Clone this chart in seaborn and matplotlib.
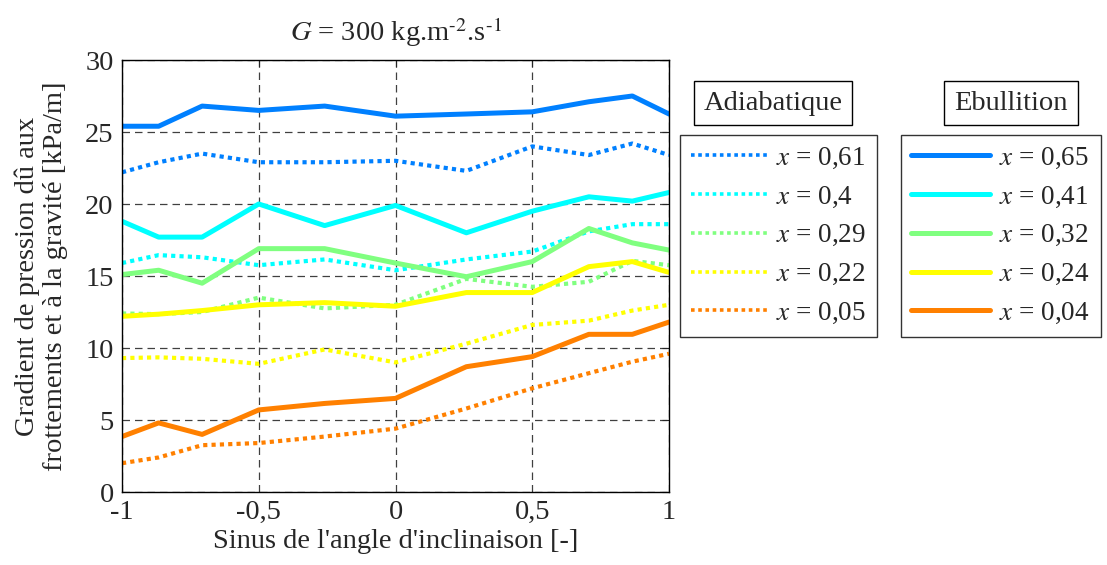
import matplotlib
matplotlib.use("Agg")
import matplotlib.pyplot as plt
from matplotlib.lines import Line2D
import numpy as np
import pandas as pd
import seaborn as sns

# sinus de l'angle d'inclinaison (-90 .. 90 deg)
sin_angle = [-1, -0.866, -0.707, -0.5, -0.259, 0, 0.259, 0.5, 0.707, 0.866, 1]

colors = ["#0080ff", "#00ffff", "#80ff80", "#ffff00", "#ff8000"]

# Adiabatique (pointilles)
adia_labels = ["0,61", "0,4", "0,29", "0,22", "0,05"]
adia_061 = [22.2, 22.9, 23.5, 22.9, 22.9, 23.0, 22.3, 24.0, 23.4, 24.2, 23.4]
adia_040 = [15.9, 16.45, 16.3, 15.75, 16.15, 15.4, 16.15, 16.7, 18.1, 18.6, 18.6]
adia_029 = [12.4, 12.35, 12.5, 13.5, 12.75, 13.0, 14.8, 14.25, 14.6, 16.05, 15.75]
adia_022 = [9.3, 9.35, 9.25, 8.9, 9.9, 9.0, 10.3, 11.6, 11.9, 12.6, 13.0]
adia_005 = [2.0, 2.4, 3.25, 3.4, 3.85, 4.4, 5.8, 7.2, 8.25, 9.05, 9.6]

# Ebullition (traits pleins)
ebul_labels = ["0,65", "0,41", "0,32", "0,24", "0,04"]
ebul_065 = [25.4, 25.4, 26.8, 26.5, 26.8, 26.1, 26.25, 26.4, 27.1, 27.5, 26.25]
ebul_041 = [18.8, 17.7, 17.7, 20.0, 18.5, 19.9, 18.0, 19.5, 20.5, 20.2, 20.8]
ebul_032 = [15.1, 15.4, 14.5, 16.9, 16.9, 15.9, 14.95, 16.0, 18.3, 17.3, 16.8]
ebul_024 = [12.2, 12.35, 12.6, 13.0, 13.15, 12.9, 13.85, 13.85, 15.65, 16.0, 15.25]
ebul_004 = [3.85, 4.8, 4.0, 5.7, 6.15, 6.5, 8.7, 9.4, 10.95, 10.95, 11.8]

adia = [adia_061, adia_040, adia_029, adia_022, adia_005]
ebul = [ebul_065, ebul_041, ebul_032, ebul_024, ebul_004]

sns.set_style("white")
plt.rcParams["font.family"] = ["Liberation Serif", "DejaVu Serif"]
plt.rcParams["mathtext.fontset"] = "stix"
fs = 20.5
lfs = 19.5

fig = plt.figure(figsize=(11.07, 5.65), dpi=100)
ax = fig.add_axes([122 / 1107, 1 - 492 / 565, (669 - 122) / 1107, (492 - 60) / 565])

dotted = (0, (1, 1))
for vals, c in zip(adia, colors):
    sns.lineplot(x=sin_angle, y=vals, ax=ax, color=c, lw=3.0, linestyle=dotted, legend=False)
for vals, c in zip(ebul, colors):
    sns.lineplot(x=sin_angle, y=vals, ax=ax, color=c, lw=3.6, legend=False)

ax.set_xlim(-1, 1)
ax.set_ylim(0, 30)
ax.set_xticks([-1, -0.5, 0, 0.5, 1])
ax.set_xticklabels(["-1", "-0,5", "0", "0,5", "1"])
ax.set_yticks(range(0, 31, 5))
ax.tick_params(direction="in", labelsize=fs, top=True, right=True, length=5, pad=6)
ax.grid(True, color="#404040", linestyle=(0, (6, 4)), lw=0.9)
for s in ax.spines.values():
    s.set_color("black")
    s.set_linewidth(1.0)

ax.set_xlabel("Sinus de l'angle d'inclinaison [-]", fontsize=fs, labelpad=3)
ax.set_ylabel("Gradient de pression dû aux\nfrottements et à la gravité [kPa/m]", fontsize=fs, labelpad=12)
ax.set_title(r"$G$ = 300 kg.m$^{\text{-2}}$.s$^{\text{-1}}$", fontsize=fs, pad=14)

# legendes
h_adia = [Line2D([], [], color=c, lw=2.6, linestyle=dotted) for c in colors]
h_ebul = [Line2D([], [], color=c, lw=3.6) for c in colors]
lab_adia = [r"$x$ = " + l for l in adia_labels]
lab_ebul = [r"$x$ = " + l for l in ebul_labels]

leg_kw = dict(fontsize=lfs, frameon=True, fancybox=False,
              borderaxespad=0, labelspacing=0.5, borderpad=0.4, handletextpad=0.35)
leg1 = fig.legend(h_adia, lab_adia, loc="upper left", bbox_to_anchor=(680 / 1107, 1 - 135 / 565),
                  handlelength=2.8, **leg_kw)
leg2 = fig.legend(h_ebul, lab_ebul, loc="upper right", bbox_to_anchor=(1101 / 1107, 1 - 135 / 565),
                  handlelength=2.9, **leg_kw)
for lg in (leg1, leg2):
    lg.get_frame().set_edgecolor("black")
    lg.get_frame().set_linewidth(1.0)

box = dict(boxstyle="square,pad=0.35", fc="white", ec="black", lw=1.0)
fig.text(773 / 1107, 1 - 103 / 565, "Adiabatique", fontsize=fs, ha="center", va="center", bbox=box)
fig.text(1011 / 1107, 1 - 103 / 565, "Ebullition", fontsize=fs, ha="center", va="center", bbox=box)

fig.savefig("out.png", dpi=100)
